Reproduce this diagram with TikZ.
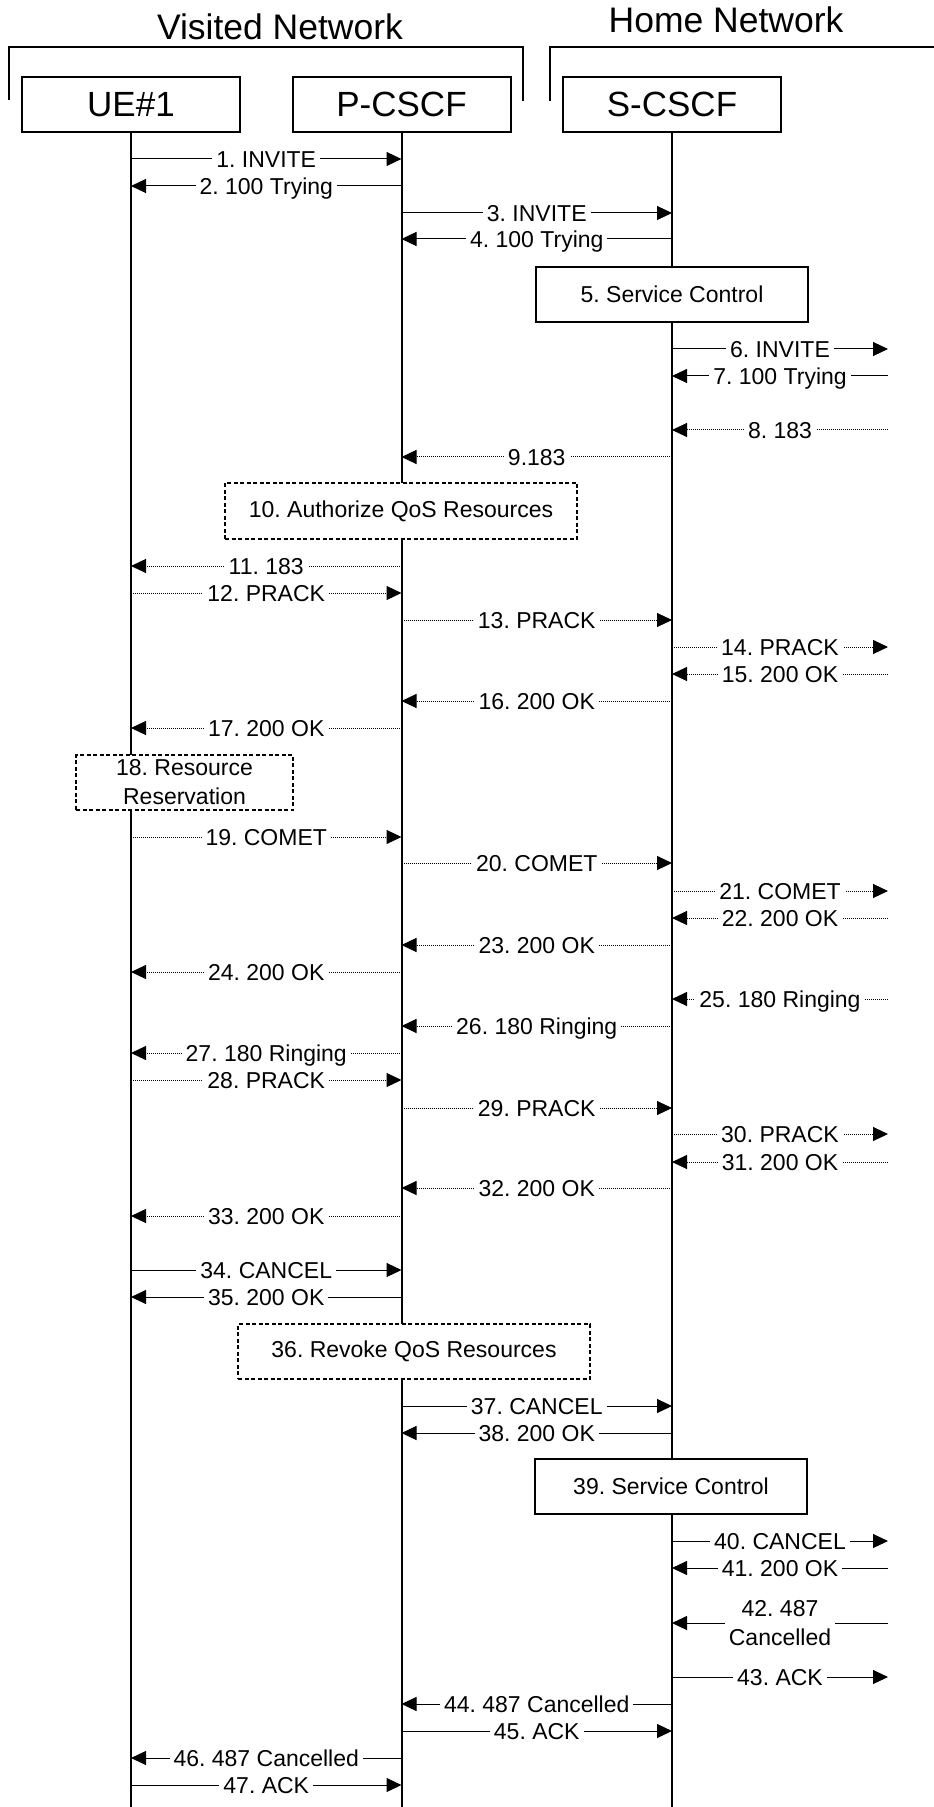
\documentclass[tikz,border=0pt]{standalone}
\usepackage{fontspec}
\setmainfont{Liberation Sans}
\usetikzlibrary{arrows.meta}
\frenchspacing
\tikzset{
  ent/.style={draw, line width=1pt, fill=white, minimum width=109pt, minimum height=27.5pt, inner sep=0pt, font=\fontsize{17.5}{21}\selectfont},
  life/.style={line width=1pt},
  msg/.style={line width=0.5pt, -{Triangle[length=7.5pt,width=7pt]}},
  dots/.style={msg, dash pattern=on 0.5pt off 0.5pt},
  lbl/.style={fill=white, inner xsep=2pt, inner ysep=1pt, text height=8.2pt, text depth=0pt, font=\fontsize{11.5}{14.5}\selectfont},
  lbltwo/.style={fill=white, inner xsep=2pt, inner ysep=1pt, align=center, font=\fontsize{11.5}{14.5}\selectfont},
  act/.style={draw, line width=1pt, fill=white, inner sep=0pt, align=center, font=\fontsize{11.5}{14.5}\selectfont},
  dact/.style={act, dash pattern=on 2pt off 1.25pt},
  head/.style={font=\fontsize{17.75}{21}\selectfont, anchor=base, inner sep=0pt},
  bracket/.style={line width=1pt},
}
\newcommand{\sendmsg}[5][msg]{\draw[#1] (#2 |- 0,#4) -- (#3 |- 0,#4) node[lbl,midway]{#5};}
\begin{document}
\begin{tikzpicture}[x=0.5pt,y=-0.5pt]
\useasboundingbox (0,0) rectangle (933,1807);
% headers
\node[head] (vis) at (280,40) {Visited Network};
\node[head] (home) at (726,33) {Home Network};
\draw[bracket] (9,100) -- (9,47) -- (523,47) -- (523,101);
\draw[bracket] (550,101) -- (550,47) -- (935,47);
% entities
\node[ent] (ue) at (131,104.5) {UE\#1};
\node[ent] (pc) at (401.5,104.5) {P-CSCF};
\node[ent] (sc) at (672,104.5) {S-CSCF};
\coordinate (ext) at (888,0);
\coordinate (ueEnd) at (131,1807);
\coordinate (pcEnd) at (401.5,1807);
\coordinate (scEnd) at (672,1807);
\draw[life] (ue.south) -- (ueEnd);
\draw[life] (pc.south) -- (pcEnd);
\draw[life] (sc.south) -- (scEnd);
% messages
\sendmsg{ue}{pc}{159}{1. INVITE}
\sendmsg{pc}{ue}{186}{2. 100 Trying}
\sendmsg{pc}{sc}{213}{3. INVITE}
\sendmsg{sc}{pc}{239}{4. 100 Trying}
\node[act, minimum width=136pt, minimum height=27.5pt] (b5) at (672,294.5) {5. Service Control};
\sendmsg{sc}{ext}{349}{6. INVITE}
\sendmsg{ext}{sc}{376}{7. 100 Trying}
\sendmsg[dots]{ext}{sc}{430}{8. 183}
\sendmsg[dots]{sc}{pc}{457}{9.183}
\node[dact, minimum width=176pt, minimum height=28pt] (b10) at (401,511) {10. Authorize QoS Resources};
\sendmsg[dots]{pc}{ue}{566}{11. 183}
\sendmsg[dots]{ue}{pc}{593}{12. PRACK}
\sendmsg[dots]{pc}{sc}{620}{13. PRACK}
\sendmsg[dots]{sc}{ext}{647}{14. PRACK}
\sendmsg[dots]{ext}{sc}{674}{15. 200 OK}
\sendmsg[dots]{sc}{pc}{701}{16. 200 OK}
\sendmsg[dots]{pc}{ue}{728}{17. 200 OK}
\node[dact, minimum width=108.5pt, minimum height=27.5pt] (b18) at (184.5,782.5) {18. Resource\\Reservation};
\sendmsg[dots]{ue}{pc}{837}{19. COMET}
\sendmsg[dots]{pc}{sc}{863}{20. COMET}
\sendmsg[dots]{sc}{ext}{891}{21. COMET}
\sendmsg[dots]{ext}{sc}{918}{22. 200 OK}
\sendmsg[dots]{sc}{pc}{945}{23. 200 OK}
\sendmsg[dots]{pc}{ue}{972}{24. 200 OK}
\sendmsg[dots]{ext}{sc}{999}{25. 180 Ringing}
\sendmsg[dots]{sc}{pc}{1026}{26. 180 Ringing}
\sendmsg[dots]{pc}{ue}{1053}{27. 180 Ringing}
\sendmsg[dots]{ue}{pc}{1080}{28. PRACK}
\sendmsg[dots]{pc}{sc}{1108}{29. PRACK}
\sendmsg[dots]{sc}{ext}{1134}{30. PRACK}
\sendmsg[dots]{ext}{sc}{1162}{31. 200 OK}
\sendmsg[dots]{sc}{pc}{1188}{32. 200 OK}
\sendmsg[dots]{pc}{ue}{1216}{33. 200 OK}
\sendmsg{ue}{pc}{1270}{34. CANCEL}
\sendmsg{pc}{ue}{1297}{35. 200 OK}
\node[dact, minimum width=176pt, minimum height=27.5pt] (b36) at (414,1351.5) {36. Revoke QoS Resources};
\sendmsg{pc}{sc}{1406}{37. CANCEL}
\sendmsg{sc}{pc}{1433}{38. 200 OK}
\node[act, minimum width=136pt, minimum height=27.5pt] (b39) at (671,1486.5) {39. Service Control};
\sendmsg{sc}{ext}{1541}{40. CANCEL}
\sendmsg{ext}{sc}{1568}{41. 200 OK}
\draw[msg] (ext |- 0,1623) -- (sc |- 0,1623) node[lbltwo,midway]{42. 487\\Cancelled};
\sendmsg{sc}{ext}{1677}{43. ACK}
\sendmsg{sc}{pc}{1704}{44. 487 Cancelled}
\sendmsg{pc}{sc}{1731}{45. ACK}
\sendmsg{pc}{ue}{1758}{46. 487 Cancelled}
\sendmsg{ue}{pc}{1785}{47. ACK}
\end{tikzpicture}
\end{document}
